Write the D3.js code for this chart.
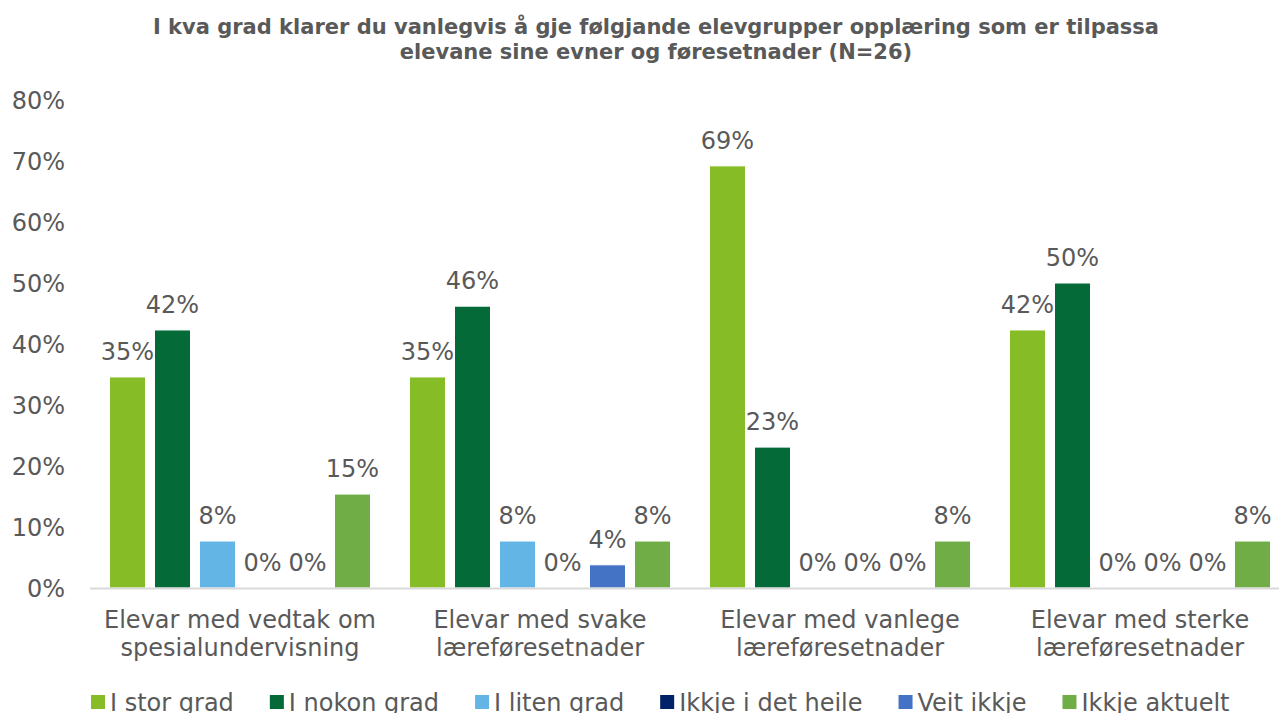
<!DOCTYPE html>
<html>
<head>
<meta charset="utf-8">
<script src="https://cdn.jsdelivr.net/npm/d3@7"></script>
<style>
  html, body { margin: 0; padding: 0; background: #fff; overflow: hidden; }
  svg { display: block; font-family: "DejaVu Sans", Verdana, sans-serif; }
</style>
</head>
<body>
<svg id="chart" width="1279" height="713"></svg>
<script>
var categories = [
  ['Elevar med vedtak om', 'spesialundervisning'],
  ['Elevar med svake', 'læreføresetnader'],
  ['Elevar med vanlege', 'læreføresetnader'],
  ['Elevar med sterke', 'læreføresetnader']
]
var seriesNames = ['I stor grad', 'I nokon grad', 'I liten grad', 'Ikkje i det heile', 'Veit ikkje', 'Ikkje aktuelt']
var seriesColors = ['#86bc25', '#046a38', '#62b5e5', '#012169', '#4472c4', '#70ad47']

var storGrad = [0.346, 0.346, 0.692, 0.423]
var nokonGrad = [0.423, 0.462, 0.231, 0.5]
var litenGrad = [0.077, 0.077, 0, 0]
var detHeile = [0, 0, 0, 0]
var veitIkkje = [0, 0.038, 0, 0]
var ikkjeAktuelt = [0.154, 0.077, 0.077, 0.077]

var yTicks = [0, 0.1, 0.2, 0.3, 0.4, 0.5, 0.6, 0.7, 0.8]

var seriesValues = [storGrad, nokonGrad, litenGrad, detHeile, veitIkkje, ikkjeAktuelt]
var textColor = '#595959'

var svg = d3.select('#chart')

// title, two lines
var title = svg.append('text')
  .attr('text-anchor', 'middle')
  .attr('fill', textColor)
  .style('font-weight', 'bold')
  .style('font-size', '21px')
title.append('tspan').attr('x', 656).attr('y', 34)
  .text('I kva grad klarer du vanlegvis å gje følgjande elevgrupper opplæring som er tilpassa')
title.append('tspan').attr('x', 656).attr('y', 59)
  .text('elevane sine evner og føresetnader (N=26)')

var x0 = d3.scaleBand()
  .domain(d3.range(categories.length))
  .range([90, 1290])

var x1 = d3.scaleBand()
  .domain(d3.range(seriesNames.length))
  .range([15, 285])
  .paddingInner(0.2)
  .paddingOuter(0.1)

var y = d3.scaleLinear().domain([0, 0.8]).range([588, 100])
var pct = function(v) { return Math.round(v * 100) + '%' }

// y axis labels (no gridlines in the original)
svg.append('g').selectAll('text')
  .data(yTicks)
  .enter().append('text')
  .attr('x', 65)
  .attr('y', function(d) { return y(d) })
  .attr('dy', '0.36em')
  .attr('text-anchor', 'end')
  .attr('fill', textColor)
  .style('font-size', '24px')
  .text(pct)

var rows = []
seriesValues.forEach(function(vals, s) {
  vals.forEach(function(v, c) { rows.push({ s: s, c: c, v: v }) })
})

// bars
svg.append('g').selectAll('rect')
  .data(rows.filter(function(d) { return d.v > 0 }))
  .enter().append('rect')
  .attr('x', function(d) { return x0(d.c) + x1(d.s) })
  .attr('y', function(d) { return y(d.v) })
  .attr('width', x1.bandwidth())
  .attr('height', function(d) { return y(0) - y(d.v) })
  .attr('fill', function(d) { return seriesColors[d.s] })
  .attr('stroke', '#fff')
  .attr('stroke-width', 1)

// baseline
svg.append('line')
  .attr('x1', 90).attr('x2', 1290)
  .attr('y1', y(0) + 0.5).attr('y2', y(0) + 0.5)
  .attr('stroke', '#d9d9d9')
  .attr('stroke-width', 2)

// value labels
svg.append('g').selectAll('text')
  .data(rows)
  .enter().append('text')
  .attr('x', function(d) { return x0(d.c) + x1(d.s) + x1.bandwidth() / 2 })
  .attr('y', function(d) { return y(d.v) - 17 })
  .attr('text-anchor', 'middle')
  .attr('fill', textColor)
  .style('font-size', '24px')
  .text(function(d) { return pct(d.v) })

// category labels
var cat = svg.append('g').selectAll('text')
  .data(categories)
  .enter().append('text')
  .attr('text-anchor', 'middle')
  .attr('fill', textColor)
  .style('font-size', '24px')
cat.append('tspan')
  .attr('x', function(d, i) { return x0(i) + x0.bandwidth() / 2 })
  .attr('y', 628)
  .text(function(d) { return d[0] })
cat.append('tspan')
  .attr('x', function(d, i) { return x0(i) + x0.bandwidth() / 2 })
  .attr('y', 656)
  .text(function(d) { return d[1] })

// legend, cut at the bottom like the original
var lx = 91
var legend = svg.append('g')
seriesNames.forEach(function(name, i) {
  legend.append('rect')
    .attr('x', lx).attr('y', 695)
    .attr('width', 14).attr('height', 14)
    .attr('fill', seriesColors[i])
  var t = legend.append('text')
    .attr('x', lx + 19).attr('y', 711)
    .attr('fill', textColor)
    .style('font-size', '24px')
    .text(name)
  lx += 19 + t.node().getComputedTextLength() + 36
})
</script>
</body>
</html>
